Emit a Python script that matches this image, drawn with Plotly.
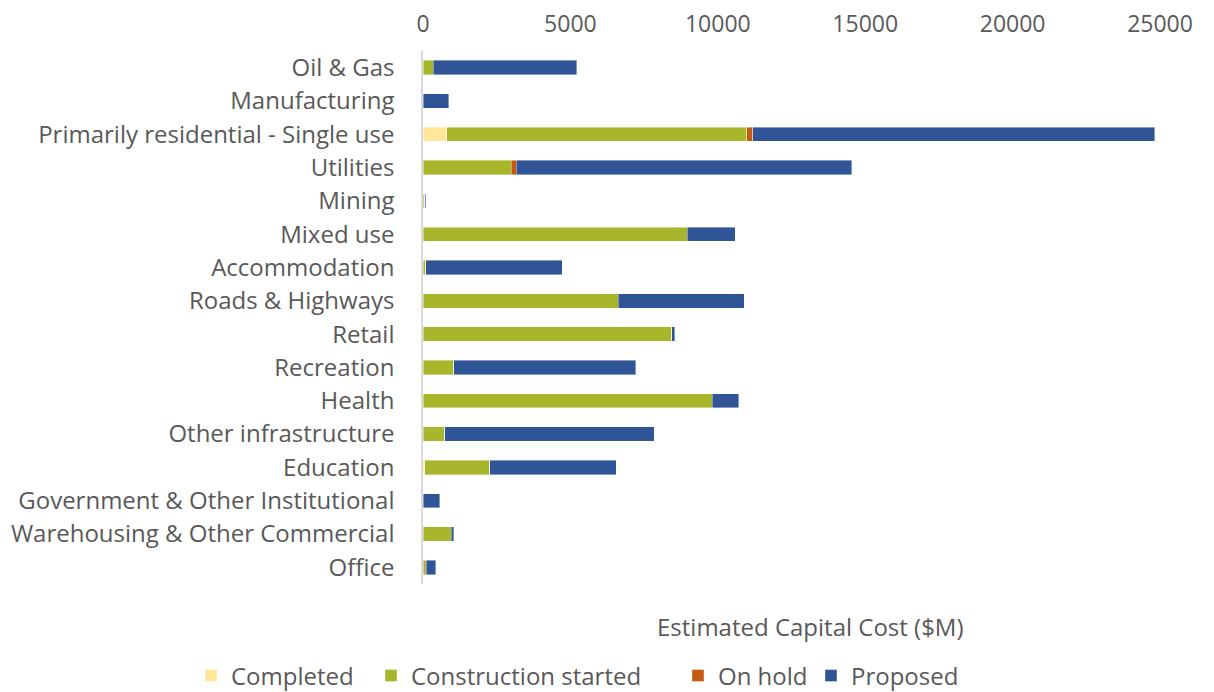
import plotly.graph_objects as go

categories = ["Oil & Gas", "Manufacturing", "Primarily residential - Single use", "Utilities",
              "Mining", "Mixed use", "Accommodation", "Roads & Highways", "Retail", "Recreation",
              "Health", "Other infrastructure", "Education", "Government & Other Institutional",
              "Warehousing & Other Commercial", "Office"]

completed = [0, 0, 810, 0, 0, 0, 0, 0, 0, 0, 0, 0, 60, 0, 0, 0]
construction = [340, 0, 10170, 2985, 60, 8970, 100, 6630, 8430, 1040, 9810, 730, 2200, 0, 950, 70]
on_hold = [0, 0, 205, 180, 0, 0, 0, 0, 0, 0, 0, 0, 0, 0, 0, 45]
proposed = [4880, 870, 13640, 11375, 40, 1620, 4630, 4260, 110, 6170, 900, 7120, 4290, 565, 90, 315]

series = [("Completed", completed, "#FFE699"),
          ("Construction started", construction, "#A7B62A"),
          ("On hold", on_hold, "#C55A11"),
          ("Proposed", proposed, "#2F5597")]

FONT = "Open Sans"
GREY = "#595959"
W, H = 1214, 692
ML, MR, MT, MB = 415, 62, 43, 116
legend_names = ["legend", "legend2", "legend3", "legend4"]
legend_left_px = [183, 363, 670, 803]

fig = go.Figure()
for (name, vals, color), lg in zip(series, legend_names):
    fig.add_trace(go.Bar(
        y=categories, x=vals, name=name, orientation="h", legend=lg,
        marker=dict(color=color, line=dict(color="rgba(255,255,255,0.5)", width=0.8)),
    ))

legend_common = dict(orientation="h", xref="container", yref="container", xanchor="left",
                      y=1 - 668 / H, yanchor="middle", font=dict(size=24, color=GREY),
                      itemwidth=30, bgcolor="rgba(0,0,0,0)")

layout_legends = {}
for lg, px in zip(legend_names, legend_left_px):
    layout_legends[lg] = dict(x=px / W, **legend_common)

plot_h = H - MT - MB
fig.update_layout(
    barmode="stack",
    bargap=0.57,
    width=W, height=H,
    margin=dict(l=ML, r=MR, t=MT, b=MB, autoexpand=False),
    plot_bgcolor="white", paper_bgcolor="white",
    font=dict(family=FONT, color=GREY, size=24),
    xaxis=dict(side="top", range=[0, 25000], dtick=5000, tickformat="d", showgrid=False,
               zeroline=False, showline=False, tickfont=dict(size=23, color=GREY), ticks="",
               ticklabelstandoff=13, automargin=True),
    yaxis=dict(autorange="reversed", showgrid=False, showline=True, linecolor="#D9D9D9",
               linewidth=1.5, tickfont=dict(size=24, color=GREY), ticks="", ticklabelstandoff=22,
               automargin=True),
    showlegend=True,
    annotations=[dict(text="Estimated Capital Cost ($M)", x=0.315, xref="paper",
                      y=-(618 - (H - MB)) / plot_h, yref="paper", yanchor="middle",
                      showarrow=False, font=dict(size=24, color=GREY))],
    **layout_legends,
)

fig.write_html("out.html")
